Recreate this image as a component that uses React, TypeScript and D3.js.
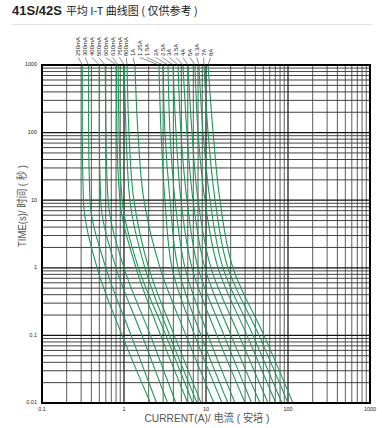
import React from "react";
import * as d3 from "d3";

const W = 382;
const H = 428;

// Curve labels (rated currents)
const ratings = [
  "250mA", "300mA", "400mA", "500mA", "600mA", "630mA", "750mA", "800mA",
  "1A", "1.25A", "1.5A", "2A", "2.5A", "3A", "3.5A", "4A", "5A", "6.3A", "7A", "8A",
];

// Times (s) at which currents are read
const times = [1000, 100, 10, 1, 0.1, 0.01];

// Current (A) for each curve at each of the times above
const c250mA = [0.31, 0.31, 0.32, 0.47, 0.95, 2.1];
const c300mA = [0.37, 0.37, 0.385, 0.6, 1.22, 2.5];
const c400mA = [0.5, 0.5, 0.52, 0.8, 1.66, 3.4];
const c500mA = [0.59, 0.6, 0.64, 1.0, 2.1, 4.3];
const c600mA = [0.81, 0.82, 0.89, 1.4, 2.8, 6.0];
const c630mA = [0.85, 0.87, 0.95, 1.5, 3.25, 6.9];
const c750mA = [1.01, 1.06, 1.18, 1.8, 3.6, 7.8];
const c800mA = [1.09, 1.15, 1.32, 2.0, 4.1, 8.7];
const c1A = [1.36, 1.48, 1.75, 2.75, 5.7, 12.5];
const c1_25A = [2.67, 2.83, 3.16, 3.85, 7.3, 15.7];
const c1_5A = [3.0, 3.16, 3.64, 4.56, 8.7, 18.5];
const c2A = [3.44, 3.64, 4.19, 5.55, 10.6, 22.6];
const c2_5A = [3.96, 4.31, 4.95, 6.75, 13.6, 30];
const c3A = [4.56, 4.95, 5.86, 8.0, 16.6, 36];
const c3_5A = [5.24, 5.86, 6.94, 9.7, 20.2, 45.6];
const c4A = [6.03, 6.75, 8.0, 11.5, 25.3, 57];
const c5A = [7.34, 8.0, 9.7, 14.0, 31.6, 71];
const c6_3A = [8.2, 9.2, 11.2, 16.1, 37.4, 84.5];
const c7A = [9.45, 10.6, 12.9, 18.5, 44.3, 100];
const c8A = [10.6, 12.2, 14.8, 21.3, 51, 115];

const series = [
  c250mA, c300mA, c400mA, c500mA, c600mA, c630mA, c750mA, c800mA,
  c1A, c1_25A, c1_5A, c2A, c2_5A, c3A, c3_5A, c4A, c5A, c6_3A, c7A, c8A,
];

const xTickLabels = ["0.1", "1", "10", "100", "1000"];
const yTickLabels = ["0.01", "0.1", "1", "10", "100", "1000"];

export default function App() {
  const left = 42, right = 370, top = 65, bottom = 403;
  const x = d3.scaleLog().domain([0.1, 1000]).range([left, right]);
  const y = d3.scaleLog().domain([0.01, 1000]).range([bottom, top]);

  const xGrid: { v: number; major: boolean }[] = [];
  for (let k = -1; k <= 2; k++) {
    for (let m = 1; m <= 9; m++) xGrid.push({ v: m * Math.pow(10, k), major: m === 1 });
  }
  xGrid.push({ v: 1000, major: true });
  const yGrid: { v: number; major: boolean }[] = [];
  for (let k = -2; k <= 2; k++) {
    for (let m = 1; m <= 9; m++) yGrid.push({ v: m * Math.pow(10, k), major: m === 1 });
  }
  yGrid.push({ v: 1000, major: true });

  const line = d3
    .line<[number, number]>()
    .x((d) => x(d[0]))
    .y((d) => y(d[1]))
    .curve(d3.curveMonotoneY);

  const green = "#1d9a55";
  const labelFont = 6;

  return (
    <svg width={W} height={H} style={{ display: "block", position: "absolute", left: 0, top: 0, background: "#fff" }}
      fontFamily="'Liberation Sans', Arial, sans-serif">
      {/* Title */}
      <text x={12} y={15} fill="#222">
        <tspan fontWeight="bold" fontSize={13}>41S/42S</tspan>
        <tspan fontSize={11} fontFamily="'Noto Sans CJK SC', 'Liberation Sans', sans-serif" dx={4}>平均 I-T 曲线图 ( 仅供参考 )</tspan>
      </text>
      <line x1={12} x2={372} y1={24.5} y2={24.5} stroke="#e2e2e2" strokeWidth={1} />

      {/* Grid */}
      <g>
        {xGrid.map((g, i) => (
          <line key={"xg" + i} x1={x(g.v)} x2={x(g.v)} y1={top} y2={bottom}
            stroke={g.major ? "#222" : "#555"} strokeWidth={g.major ? 1.3 : 0.95} />
        ))}
        {yGrid.map((g, i) => (
          <line key={"yg" + i} x1={left} x2={right} y1={y(g.v)} y2={y(g.v)}
            stroke={g.major ? "#111" : "#383838"} strokeWidth={g.major ? 1.3 : 0.95} />
        ))}
      </g>

      {/* Curves */}
      <g>
        {series.map((s, i) => (
          <path key={"c" + i}
            d={line(s.map((c, j) => [c, times[j]] as [number, number])) || ""}
            fill="none" stroke={green} strokeWidth={1.1} />
        ))}
      </g>

      {/* Border */}
      <rect x={left} y={top} width={right - left} height={bottom - top} fill="none" stroke="#000" strokeWidth={2} />

      {/* Curve labels with leaders */}
      <g>
        {ratings.map((r, i) => {
          const lx = 78.3 + i * 6.85 + (i >= 11 ? 2 : 0);
          const cx = x(series[i][0]);
          return (
            <g key={"l" + i}>
              <line x1={lx} y1={57.5} x2={cx} y2={top} stroke="#444" strokeWidth={0.6} />
              <text transform={`translate(${lx + labelFont * 0.35},56) rotate(-90)`} fontSize={labelFont} fill="#222">{r}</text>
            </g>
          );
        })}
      </g>

      {/* Tick labels */}
      <g fontSize={5.5} fill="#222">
        {xTickLabels.map((t) => (
          <text key={"xt" + t} x={x(+t)} y={411} textAnchor="middle">{t}</text>
        ))}
        {yTickLabels.map((t) => (
          <text key={"yt" + t} x={37} y={y(+t)} textAnchor="end" dominantBaseline="middle">{t}</text>
        ))}
      </g>

      {/* Axis titles */}
      <text x={207} y={422} textAnchor="middle" fontSize={11} fill="#555" textLength={125} lengthAdjust="spacingAndGlyphs"
        fontFamily="'Liberation Sans', 'Noto Sans CJK SC', sans-serif">CURRENT(A)/ 电流 ( 安培 )</text>
      <text transform="translate(26,206) rotate(-90)" textAnchor="middle" fontSize={11} fill="#555" textLength={82} lengthAdjust="spacingAndGlyphs"
        fontFamily="'Liberation Sans', 'Noto Sans CJK SC', sans-serif">TIME(s)/ 时间 ( 秒 )</text>
    </svg>
  );
}
